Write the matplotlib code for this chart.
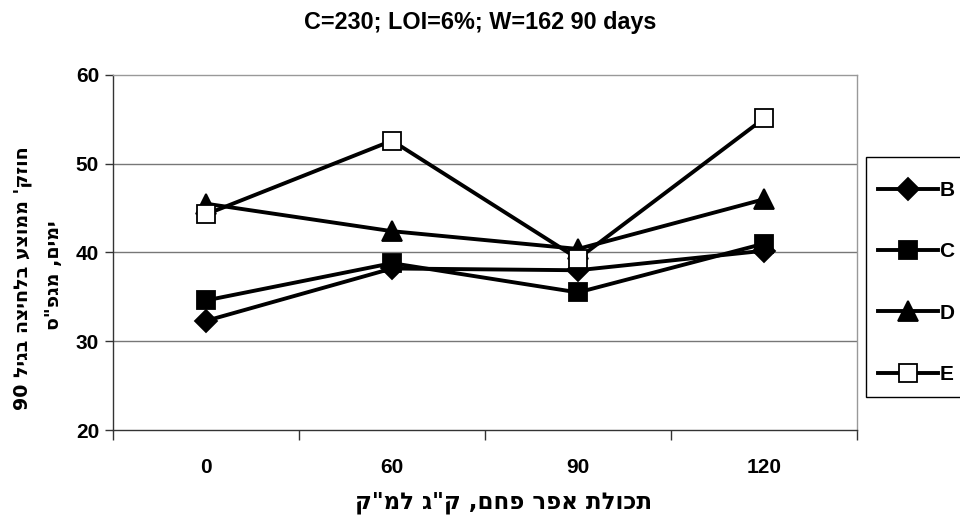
import matplotlib
matplotlib.use("Agg")
import matplotlib.pyplot as plt
from matplotlib.patches import Rectangle

plt.rcParams['font.family'] = ['Liberation Sans', 'DejaVu Sans']
HEB = ['DejaVu Sans']

categories = ["0", "60", "90", "120"]
series_names = ["B", "C", "D", "E"]
B = [32.3, 38.2, 38.0, 40.2]
C = [34.6, 38.8, 35.5, 41.0]
D = [45.5, 42.4, 40.4, 46.0]
E = [44.3, 52.6, 39.3, 55.1]
yticks = [20, 30, 40, 50, 60]

title = "C=230; LOI=6%; W=162 90 days"
ylabel_logical = ["חוזק' ממוצע בלחיצה בגיל 90", 'ימים, מגפ"ס']
xlabel_logical = 'תכולת אפר פחם, ק"ג למ"ק'


def visual(s):
    # reverse Hebrew for left-to-right rendering, keeping digit runs in order
    tokens = []
    cur = ""
    for ch in s:
        if ch.isdigit():
            cur += ch
        else:
            if cur:
                tokens.append(cur)
                cur = ""
            tokens.append(ch)
    if cur:
        tokens.append(cur)
    return "".join(reversed(tokens))


fig = plt.figure(figsize=(9.6, 5.26), dpi=100)
ax = fig.add_axes([113 / 960, 1 - 430 / 526, (857 - 113) / 960, (430 - 75) / 526])

x = list(range(len(categories)))
styles = [
    dict(marker='D', markersize=11, markerfacecolor='black'),
    dict(marker='s', markersize=13, markerfacecolor='black'),
    dict(marker='^', markersize=15, markerfacecolor='black'),
    dict(marker='s', markersize=13, markerfacecolor='white'),
]
handles = []
for name, vals, st in zip(series_names, [B, C, D, E], styles):
    h, = ax.plot(x, vals, color='black', linewidth=2.8, markeredgecolor='black',
                 markeredgewidth=1.3, label=name, zorder=3, **st)
    handles.append(h)

ax.set_xlim(-0.5, len(categories) - 0.5)
ax.set_ylim(20, 60)
ax.set_yticks(yticks)
ax.set_yticklabels([str(v) for v in yticks], fontsize=15, fontweight='bold')
ax.set_xticks(x)
ax.set_xticklabels(categories, fontsize=15, fontweight='bold')
ax.tick_params(axis='x', length=0, pad=20)
ax.set_xticks([i + 0.5 for i in range(-1, len(categories))], minor=True)
ax.tick_params(axis='x', which='minor', length=7, width=1, direction='out', color='#333333')
ax.tick_params(axis='y', length=6, width=1, direction='out', color='#333333', pad=4)

for y in [30, 40, 50]:
    ax.axhline(y, color='#777777', linewidth=1, zorder=1)
for side in ['top', 'right']:
    ax.spines[side].set_color('#999999')
    ax.spines[side].set_linewidth(1)
for side in ['left', 'bottom']:
    ax.spines[side].set_color('#333333')
    ax.spines[side].set_linewidth(1)

fig.text(480 / 960, 1 - 22 / 526, title, ha='center', va='center',
         fontsize=16.8, fontweight='bold')
fig.text(23 / 960, 1 - 278 / 526, visual(ylabel_logical[0]), rotation=90,
         ha='center', va='center', fontsize=13.7, fontweight='bold', family=HEB)
fig.text(53 / 960, 1 - 275 / 526, visual(ylabel_logical[1]), rotation=90,
         ha='center', va='center', fontsize=13.7, fontweight='bold', family=HEB)
fig.text(504 / 960, 1 - 502 / 526, visual(xlabel_logical), ha='center', va='center',
         fontsize=16.5, fontweight='bold', family=HEB)

# legend frame (extends past figure edge)
fig.patches.append(Rectangle((866 / 960, 1 - 397 / 526), 120 / 960, 240 / 526,
                             transform=fig.transFigure, facecolor='white',
                             edgecolor='black', linewidth=1, zorder=0))
leg = fig.legend(handles=handles, loc='upper left',
                 bbox_to_anchor=(878 / 960, 1 - 181 / 526),
                 frameon=False, prop={'weight': 'bold', 'size': 15},
                 handlelength=2.9, labelspacing=2.03, handletextpad=0.05,
                 borderaxespad=0, borderpad=0)

fig.savefig("out.png", dpi=100)
